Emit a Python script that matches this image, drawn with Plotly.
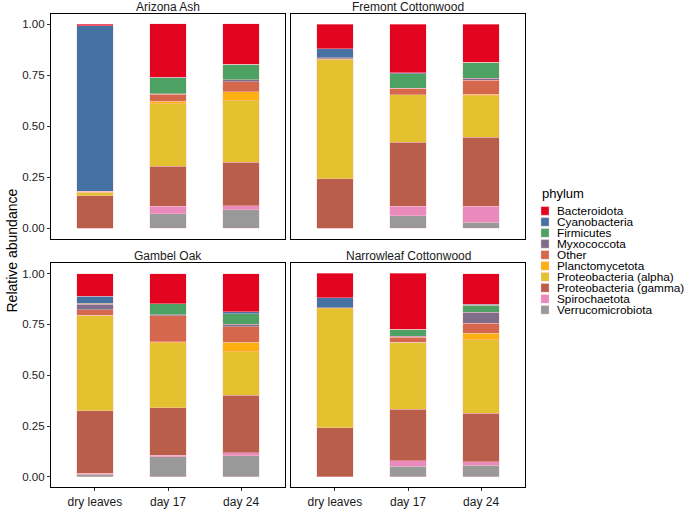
import plotly.graph_objects as go

W, H = 685, 509

days = ["dry leaves", "day 17", "day 24"]
panels = ["Arizona Ash", "Fremont Cottonwood", "Gambel Oak", "Narrowleaf Cottonwood"]
y_ticks = [0.0, 0.25, 0.5, 0.75, 1.0]
y_tick_labels = ["0.00", "0.25", "0.50", "0.75", "1.00"]

phyla = ["Bacteroidota", "Cyanobacteria", "Firmicutes", "Myxococcota", "Other",
         "Planctomycetota", "Proteobacteria (alpha)", "Proteobacteria (gamma)",
         "Spirochaetota", "Verrucomicrobiota"]
colors = ["#E3051F", "#4672A3", "#4CA163", "#7F6E8A", "#D4674C",
          "#FDB012", "#E4C22F", "#B85E4B", "#EA89BC", "#999999"]

# values per phylum: [dry leaves, day 17, day 24]
arizona_ash = {
    "Bacteroidota": [0.008, 0.260, 0.197],
    "Cyanobacteria": [0.810, 0.003, 0.000],
    "Firmicutes": [0.000, 0.079, 0.076],
    "Myxococcota": [0.000, 0.002, 0.011],
    "Other": [0.000, 0.034, 0.047],
    "Planctomycetota": [0.005, 0.013, 0.045],
    "Proteobacteria (alpha)": [0.016, 0.305, 0.302],
    "Proteobacteria (gamma)": [0.161, 0.197, 0.213],
    "Spirochaetota": [0.000, 0.035, 0.018],
    "Verrucomicrobiota": [0.000, 0.073, 0.092],
}
fremont_cottonwood = {
    "Bacteroidota": [0.119, 0.239, 0.187],
    "Cyanobacteria": [0.045, 0.005, 0.000],
    "Firmicutes": [0.000, 0.069, 0.077],
    "Myxococcota": [0.005, 0.002, 0.010],
    "Other": [0.000, 0.032, 0.069],
    "Planctomycetota": [0.003, 0.000, 0.008],
    "Proteobacteria (alpha)": [0.585, 0.232, 0.202],
    "Proteobacteria (gamma)": [0.242, 0.313, 0.339],
    "Spirochaetota": [0.000, 0.047, 0.079],
    "Verrucomicrobiota": [0.000, 0.061, 0.029],
}
gambel_oak = {
    "Bacteroidota": [0.111, 0.148, 0.188],
    "Cyanobacteria": [0.035, 0.000, 0.010],
    "Firmicutes": [0.005, 0.055, 0.050],
    "Myxococcota": [0.027, 0.005, 0.013],
    "Other": [0.027, 0.126, 0.077],
    "Planctomycetota": [0.000, 0.006, 0.047],
    "Proteobacteria (alpha)": [0.469, 0.319, 0.214],
    "Proteobacteria (gamma)": [0.306, 0.233, 0.283],
    "Spirochaetota": [0.006, 0.008, 0.013],
    "Verrucomicrobiota": [0.013, 0.100, 0.105],
}
narrowleaf_cottonwood = {
    "Bacteroidota": [0.121, 0.274, 0.151],
    "Cyanobacteria": [0.048, 0.000, 0.003],
    "Firmicutes": [0.000, 0.034, 0.035],
    "Myxococcota": [0.000, 0.006, 0.055],
    "Other": [0.000, 0.024, 0.048],
    "Planctomycetota": [0.005, 0.000, 0.032],
    "Proteobacteria (alpha)": [0.585, 0.329, 0.362],
    "Proteobacteria (gamma)": [0.242, 0.253, 0.237],
    "Spirochaetota": [0.000, 0.029, 0.018],
    "Verrucomicrobiota": [0.000, 0.052, 0.058],
}
panel_data = [arizona_ash, fremont_cottonwood, gambel_oak, narrowleaf_cottonwood]

FONT = "Liberation Sans, Arial, sans-serif"

# panel pixel boxes: (x0, x1, y0_top, y1_bottom)
col_px = [(51, 285), (291, 525)]
row_px = [(14, 241), (266, 492)]

def px_x(x):
    return x / W

def px_y(y):
    return 1 - y / H

fig = go.Figure()
layout = {}
annotations = []
shapes = []

for p, (name, data) in enumerate(zip(panels, panel_data)):
    r, c = divmod(p, 2)
    idx = p + 1
    xa = "x" if idx == 1 else f"x{idx}"
    ya = "y" if idx == 1 else f"y{idx}"
    for ph, col in reversed(list(zip(phyla, colors))):
        fig.add_trace(go.Bar(
            x=days, y=data[ph], name=ph, marker_color=col,
            marker_line=dict(color="rgba(250,200,205,0.7)", width=0.6),
            width=0.5, xaxis=xa, yaxis=ya, showlegend=False,
        ))
    xk = "xaxis" if idx == 1 else f"xaxis{idx}"
    yk = "yaxis" if idx == 1 else f"yaxis{idx}"
    x0, x1 = col_px[c]
    yt, yb = row_px[r]
    layout[xk] = dict(
        domain=[px_x(x0), px_x(x1)], anchor=ya, type="category",
        categoryorder="array", categoryarray=days, range=[-0.6, 2.6],
        showline=True, mirror=True, linecolor="black", linewidth=1.3,
        showgrid=False, zeroline=False,
        ticks="outside" if r == 1 else "", ticklen=3, tickcolor="#333",
        showticklabels=(r == 1),
        tickfont=dict(family=FONT, size=12, color="#1a1a1a"),
    )
    layout[yk] = dict(
        domain=[px_y(yb), px_y(yt)], anchor=xa, range=[-0.05, 1.05],
        tickvals=y_ticks, ticktext=y_tick_labels,
        showline=True, mirror=True, linecolor="black", linewidth=1.3,
        showgrid=False, zeroline=False,
        ticks="outside" if c == 0 else "", ticklen=3, tickcolor="#333",
        showticklabels=(c == 0),
        tickfont=dict(family=FONT, size=11.5, color="#1a1a1a"),
    )
    annotations.append(dict(
        text=name, xref="paper", yref="paper",
        x=px_x((x0 + x1) / 2), y=px_y(yt - 7), xanchor="center", yanchor="middle",
        showarrow=False, font=dict(family=FONT, size=12, color="#1a1a1a"),
    ))

# y-axis title
annotations.append(dict(
    text="Relative abundance", xref="paper", yref="paper",
    x=px_x(12), y=px_y(253), textangle=-90, xanchor="center", yanchor="middle",
    showarrow=False, font=dict(family=FONT, size=14, color="black"),
))

# legend (drawn manually to match compact ggplot spacing)
annotations.append(dict(
    text="phylum", xref="paper", yref="paper", x=px_x(540), y=px_y(195),
    xanchor="left", yanchor="middle", showarrow=False,
    font=dict(family=FONT, size=13, color="black"),
))
for i, (ph, col) in enumerate(zip(phyla, colors)):
    cy = 213 + i * 11.1
    shapes.append(dict(
        type="rect", xref="paper", yref="paper",
        x0=px_x(541), x1=px_x(549), y0=px_y(cy - 4.3), y1=px_y(cy + 4.3),
        fillcolor=col, line=dict(color="rgba(250,200,205,0.7)", width=0.5),
    ))
    annotations.append(dict(
        text=ph, xref="paper", yref="paper", x=px_x(556), y=px_y(cy),
        xanchor="left", yanchor="middle", showarrow=False, borderpad=0,
        font=dict(family=FONT, size=11.8, color="black"),
    ))

fig.update_layout(
    width=W, height=H, margin=dict(l=0, r=0, t=0, b=0),
    barmode="stack", bargap=0.5,
    paper_bgcolor="white", plot_bgcolor="white",
    showlegend=False, annotations=annotations, shapes=shapes,
    **layout,
)

fig.write_html(
    "out.html",
    config={"displayModeBar": False},
    post_script="document.body.style.margin='0';document.body.style.overflow='hidden';",
)
